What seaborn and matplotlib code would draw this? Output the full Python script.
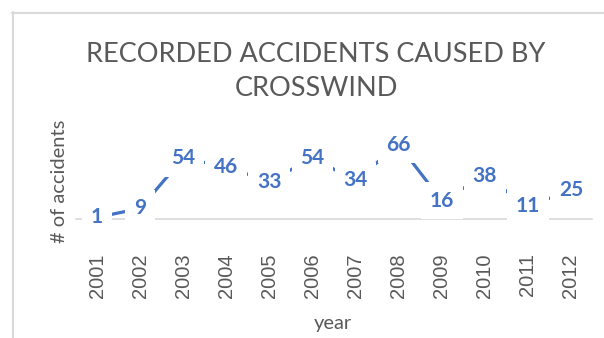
import matplotlib
matplotlib.use("Agg")
import matplotlib.pyplot as plt
from matplotlib.lines import Line2D
import pandas as pd
import seaborn as sns

# Yearly counts of accidents attributed to crosswind
years = ["2001", "2002", "2003", "2004", "2005", "2006",
         "2007", "2008", "2009", "2010", "2011", "2012"]
accidents = [1, 9, 54, 46, 33, 54, 34, 66, 16, 38, 11, 25]

title_text = "RECORDED ACCIDENTS CAUSED BY\nCROSSWIND"
x_label = "year"
y_label = "# of accidents"

BLUE = "#4472C4"
GREY_TEXT = "#595959"
GREY_LINE = "#D9D9D9"

sns.set_theme(style="white")
plt.rcParams["font.family"] = ["Lato", "DejaVu Sans"]

df = pd.DataFrame({"year": years, "accidents": accidents})

W, H = 604, 338
fig = plt.figure(figsize=(W / 100, H / 100), dpi=100)
fig.patch.set_facecolor("white")

# plot area in pixel terms
left_px, right_px = 75.5, 592.5
base_px, top_px = 218.5, 140.1
ax = fig.add_axes([left_px / W, 1 - base_px / H,
                   (right_px - left_px) / W, (base_px - top_px) / H])
ax.set_facecolor("none")

sns.lineplot(data=df, x="year", y="accidents", ax=ax, color=BLUE,
             linewidth=2.3, sort=False, zorder=2)

# value labels sit on each point with a white backing
for i, v in enumerate(accidents):
    ax.text(i, v, str(v), ha="center", va="center", color=BLUE,
            fontsize=15, fontweight="bold", zorder=4,
            bbox=dict(boxstyle="square,pad=0.42", fc="white", ec="none"))

ax.set_xlim(-0.5, len(years) - 0.5)
ax.set_ylim(0, 70)
ax.set_yticks([])
ax.set_xlabel("")
ax.set_ylabel("")
for side in ("left", "right", "top"):
    ax.spines[side].set_visible(False)
ax.spines["bottom"].set_color(GREY_LINE)
ax.spines["bottom"].set_linewidth(1.2)
ax.spines["bottom"].set_zorder(1)

ax.set_xticks(range(len(years)))
ax.set_xticklabels(years, rotation=90, fontfamily="Liberation Sans",
                   fontsize=14.5, color=GREY_TEXT)
ax.tick_params(axis="x", length=0, pad=25)

fig.text(316 / W, 1 - 71 / H, title_text, ha="center", va="center",
         fontsize=19.5, color=GREY_TEXT, linespacing=1.45)
fig.text(60 / W, 1 - 181 / H, y_label, ha="center", va="center",
         rotation=90, fontsize=14.5, color=GREY_TEXT)
fig.text(333 / W, 1 - 324 / H, x_label, ha="center", va="center",
         fontsize=14.5, color=GREY_TEXT)

# chart frame running off the right and bottom edges
fig.add_artist(Line2D([12.5 / W, 12.5 / W], [1 - 12 / H, -0.05],
                      transform=fig.transFigure, color=GREY_LINE, lw=1.5))
fig.add_artist(Line2D([12 / W, 1.05], [1 - 12.5 / H, 1 - 12.5 / H],
                      transform=fig.transFigure, color=GREY_LINE, lw=1.5))

fig.savefig("out.png", dpi=100, facecolor="white")
